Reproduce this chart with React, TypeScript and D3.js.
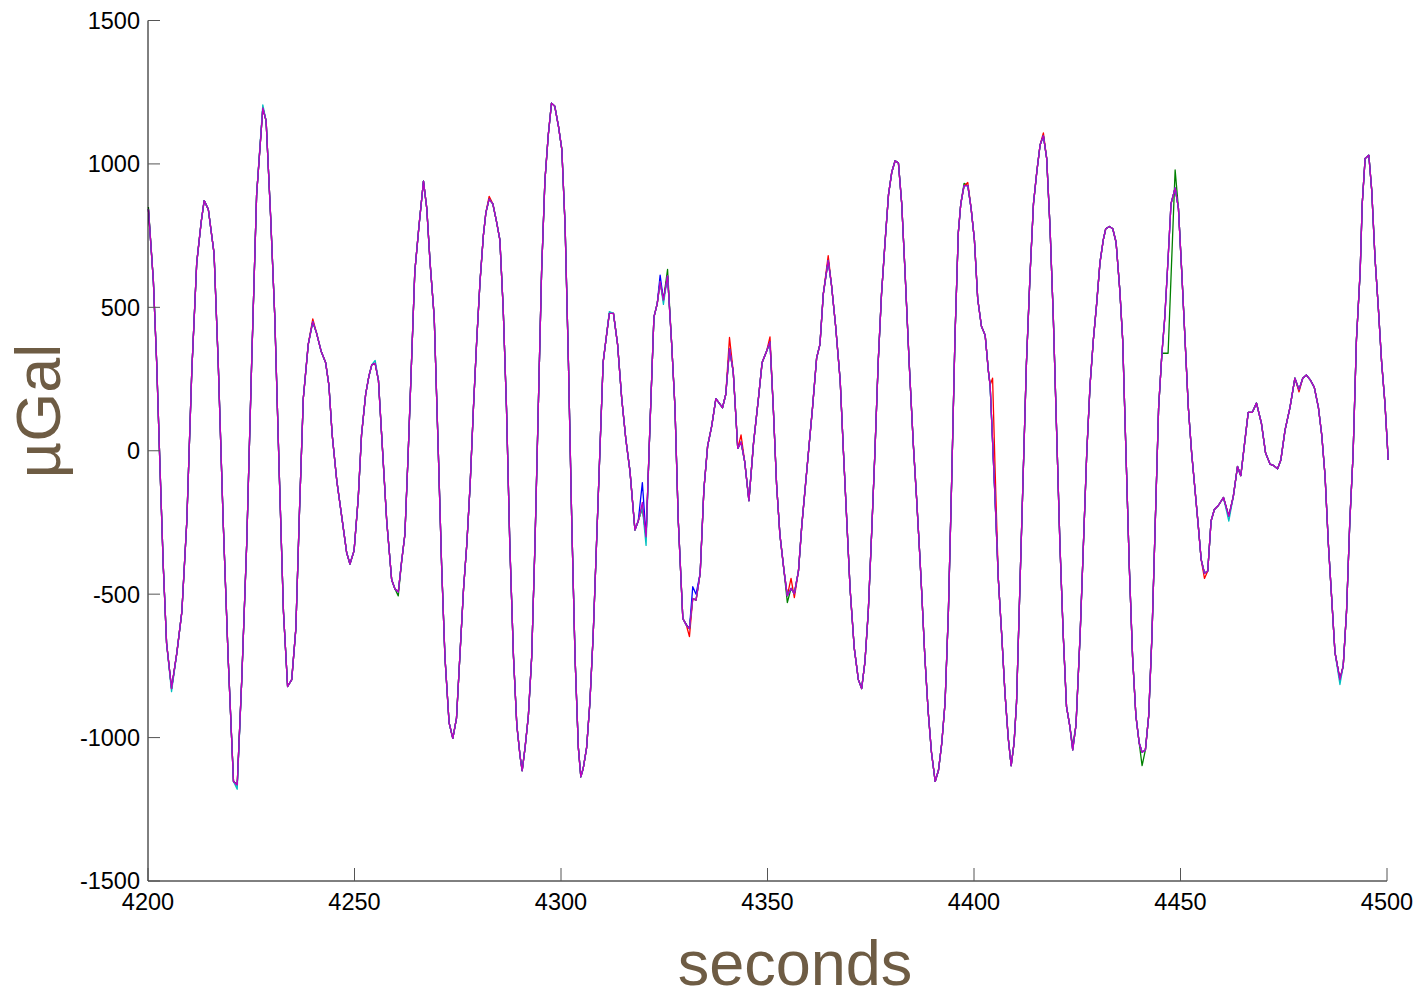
import React from "react";
import * as d3 from "d3";

// ---- data (seconds, µGal) ----
const xTicks = [4200, 4250, 4300, 4350, 4400, 4450, 4500];
const yTicks = [-1500, -1000, -500, 0, 500, 1000, 1500];

const baseSeries: [number, number][] = [
  [4200.1, 842], [4201.3, 592], [4202.1, 308], [4202.9, -55], [4203.7, -403], [4204.5, -671],
  [4205.7, -829], [4207.0, -703], [4208.2, -561], [4209.4, -245], [4210.6, 276], [4211.8, 656],
  [4212.9, 800], [4213.6, 872], [4214.6, 842], [4216.0, 687], [4217.0, 308], [4218.2, -245],
  [4219.4, -719], [4220.7, -1153], [4221.6, -1165], [4222.7, -798], [4223.9, -324], [4225.1, 308],
  [4226.3, 893], [4227.8, 1195], [4228.6, 1150], [4229.7, 814], [4230.7, 466], [4231.8, -87],
  [4232.8, -561], [4233.8, -822], [4234.8, -798], [4235.8, -620], [4236.7, -200], [4237.6, 182],
  [4238.8, 371], [4239.9, 450], [4240.8, 411], [4241.9, 348], [4243.0, 308], [4243.8, 229],
  [4244.6, 55], [4245.7, -103], [4246.9, -229], [4248.1, -355], [4248.9, -395], [4249.9, -348],
  [4250.9, -166], [4251.7, 55], [4252.7, 197], [4253.5, 261], [4254.2, 300], [4255.0, 305],
  [4255.8, 245], [4256.7, 24], [4257.8, -245], [4259.0, -450], [4259.8, -482], [4260.6, -492],
  [4261.4, -387], [4262.2, -292], [4263.0, -8], [4263.8, 308], [4264.6, 624], [4265.6, 782],
  [4266.7, 940], [4267.5, 845], [4268.3, 656], [4269.3, 466], [4270.3, -8], [4271.1, -403],
  [4271.9, -719], [4272.9, -948], [4273.8, -1003], [4274.7, -932], [4275.5, -719], [4276.4, -482],
  [4277.2, -324], [4278.0, -118], [4278.8, 150], [4279.6, 387], [4280.4, 592], [4281.2, 750],
  [4281.8, 829], [4282.6, 877], [4283.5, 861], [4284.4, 798], [4285.2, 735], [4286.0, 498],
  [4286.8, 150], [4287.6, -324], [4288.5, -719], [4289.3, -956], [4290.1, -1066], [4290.6, -1115],
  [4291.3, -1035], [4292.1, -924], [4292.9, -719], [4293.7, -324], [4294.5, 150], [4295.3, 624],
  [4296.1, 940], [4296.9, 1098], [4297.7, 1212], [4298.5, 1201], [4299.4, 1130], [4300.2, 1051],
  [4301.0, 782], [4301.8, 308], [4302.6, -245], [4303.4, -719], [4304.2, -1035], [4304.8, -1137],
  [4305.4, -1106], [4306.2, -1035], [4307.0, -877], [4307.8, -640], [4308.6, -324], [4309.4, -8],
  [4310.2, 308], [4311.0, 400], [4311.7, 479], [4312.7, 479], [4313.7, 371], [4314.7, 182],
  [4315.7, 40], [4316.7, -71], [4317.9, -276], [4318.7, -245], [4319.7, -197], [4320.6, -300],
  [4321.5, 71], [4322.5, 466], [4323.3, 513], [4324.0, 590], [4324.8, 525], [4325.8, 610],
  [4326.8, 371], [4327.6, 150], [4328.4, -245], [4329.5, -585], [4330.3, -605], [4331.1, -620],
  [4331.9, -515], [4332.7, -521], [4333.7, -427], [4334.6, -134], [4335.5, 16], [4336.5, 87],
  [4337.5, 182], [4338.3, 166], [4339.1, 150], [4339.9, 197], [4340.8, 355], [4341.7, 276],
  [4342.8, 8], [4343.6, 30], [4344.5, -40], [4345.5, -174], [4346.6, 24], [4347.8, 182],
  [4348.7, 308], [4349.8, 348], [4350.6, 379], [4351.4, 150], [4352.2, -118], [4353.0, -292],
  [4354.0, -419], [4354.8, -505], [4355.7, -480], [4356.5, -498], [4357.5, -419], [4358.3, -261],
  [4359.1, -134], [4359.9, -8], [4360.9, 150], [4361.9, 324], [4362.7, 371], [4363.5, 545],
  [4364.7, 664], [4365.5, 577], [4366.5, 434], [4367.6, 245], [4368.4, -8], [4369.2, -245],
  [4370.0, -482], [4371.0, -687], [4372.0, -798], [4372.8, -829], [4373.6, -735], [4374.4, -561],
  [4375.2, -292], [4376.0, -8], [4376.8, 308], [4377.6, 545], [4378.5, 735], [4379.3, 893],
  [4380.1, 972], [4380.9, 1011], [4381.7, 1003], [4382.5, 861], [4383.3, 624], [4384.3, 308],
  [4385.3, 24], [4386.1, -166], [4386.9, -371], [4387.3, -482], [4388.1, -719], [4388.9, -908],
  [4389.7, -1051], [4390.6, -1153], [4391.4, -1114], [4392.2, -1019], [4393.0, -877], [4393.8, -560],
  [4394.6, -100], [4395.4, 400], [4396.2, 760], [4396.8, 861], [4397.6, 924], [4398.5, 924],
  [4399.3, 845], [4400.1, 735], [4400.9, 529], [4401.8, 434], [4402.7, 403], [4403.5, 276],
  [4403.9, 229], [4405.1, -166], [4405.9, -450], [4406.7, -640], [4407.5, -845], [4408.3, -1003],
  [4409.0, -1098], [4409.7, -1019], [4410.3, -877], [4411.1, -482], [4411.9, -87], [4412.7, 308],
  [4413.6, 624], [4414.4, 861], [4415.2, 972], [4416.0, 1066], [4416.8, 1098], [4417.6, 1019],
  [4418.4, 782], [4419.2, 466], [4420.0, 71], [4420.8, -324], [4421.6, -640], [4422.4, -892],
  [4423.2, -960], [4423.9, -1043], [4424.7, -956], [4425.7, -640], [4426.5, -324], [4427.3, -8],
  [4428.1, 229], [4428.9, 387], [4429.7, 513], [4430.5, 656], [4431.3, 735], [4431.9, 774],
  [4432.8, 782], [4433.6, 774], [4434.4, 727], [4435.3, 561], [4436.0, 387], [4436.8, -8],
  [4437.6, -403], [4438.4, -719], [4439.2, -924], [4440.0, -1019], [4440.7, -1051], [4441.5, -1043],
  [4442.3, -924], [4443.1, -640], [4443.9, -245], [4444.7, 150], [4445.5, 340], [4446.2, 466],
  [4447.0, 671], [4447.7, 861], [4448.7, 916], [4449.5, 845], [4450.3, 624], [4451.1, 387],
  [4451.9, 150], [4452.7, -8], [4453.5, -134], [4454.3, -261], [4455.0, -379], [4455.8, -427],
  [4456.6, -419], [4457.4, -245], [4458.2, -205], [4459.2, -190], [4460.4, -163], [4461.7, -229],
  [4462.8, -158], [4463.8, -55], [4464.6, -87], [4465.5, 24], [4466.4, 134], [4467.4, 134],
  [4468.4, 166], [4469.6, 95], [4470.6, -8], [4471.7, -47], [4472.6, -52], [4473.5, -63],
  [4474.3, -32], [4475.3, 71], [4476.5, 150], [4477.7, 253], [4478.7, 213], [4479.6, 253],
  [4480.5, 264], [4481.5, 245], [4482.4, 221], [4483.4, 150], [4484.2, 55], [4485.0, -87],
  [4485.8, -324], [4486.6, -513], [4487.4, -703], [4488.6, -798], [4489.4, -750], [4490.2, -561],
  [4491.0, -245], [4491.8, -8], [4492.6, 387], [4493.5, 624], [4494.0, 861], [4494.7, 1019],
  [4495.6, 1030], [4496.3, 908], [4497.1, 671], [4497.9, 498], [4498.7, 308], [4499.5, 166],
  [4500.3, -32],
];

// per-series readings that differ from the shared trace
const greenPoints: [number, number][] = [
  [4200.1, 850], [4260.6, -506], [4325.8, 632], [4354.8, -529], [4397.6, 932],
  [4423.9, -1030], [4440.7, -1098], [4447.0, 340], [4448.7, 979],
];
const greenDropped: number[] = [4446.2, 4447.7];
const redPoints: [number, number][] = [
  [4239.9, 460], [4282.6, 887], [4331.1, -648], [4340.8, 395], [4343.6, 55], [4350.6, 397],
  [4355.7, -445], [4356.5, -512], [4364.7, 680], [4398.5, 935], [4404.5, 253], [4405.1, -60],
  [4416.8, 1108], [4455.8, -445], [4478.7, 205],
];
const bluePoints: [number, number][] = [
  [4319.7, -111], [4324.0, 612], [4331.9, -474], [4332.7, -500],
];
const cyanPoints: [number, number][] = [
  [4205.7, -840], [4221.6, -1180], [4227.8, 1206], [4255.0, 315], [4311.7, 485],
  [4320.6, -330], [4324.8, 510], [4330.3, -608], [4461.7, -245], [4488.6, -815],
];
const magentaPoints: [number, number][] = [[4319.7, -180], [4330.3, -608]];

const seriesNames = ["green", "red", "blue", "cyan", "magenta"];
const seriesColors = ["#008000", "#ff0000", "#0000ff", "#00bfbf", "#bf00bf"];

function buildSeries(points: [number, number][], dropped: number[] = []) {
  const m = new Map<number, number>();
  baseSeries.forEach(([t, v]) => m.set(t, v));
  dropped.forEach((t) => m.delete(t));
  points.forEach(([t, v]) => m.set(t, v));
  return Array.from(m.entries()).sort((a, b) => a[0] - b[0]);
}

const allSeries = [
  buildSeries(greenPoints, greenDropped),
  buildSeries(redPoints),
  buildSeries(bluePoints),
  buildSeries(cyanPoints),
  buildSeries(magentaPoints),
];

export default function App() {
  const W = 1418, H = 997;
  const left = 148, right = 1387, top = 20.5, bottom = 881;
  const x = d3.scaleLinear().domain([4200, 4500]).range([left, right]);
  const y = d3.scaleLinear().domain([-1500, 1500]).range([bottom, top]);
  const line = d3.line<[number, number]>().x((d) => x(d[0])).y((d) => y(d[1]));
  const font = "'Liberation Sans', Arial, sans-serif";

  return (
    <svg width={W} height={H} style={{ position: "absolute", left: 0, top: 0, background: "#fff" }}>
      <rect x={0} y={0} width={W} height={H} fill="#fff" />
      <g>
        {allSeries.map((s, i) => (
          <path key={seriesNames[i]} d={line(s as [number, number][]) || ""} fill="none"
            stroke={seriesColors[i]} strokeWidth={1.3} strokeLinejoin="round" />
        ))}
      </g>
      {/* axes */}
      <line x1={left} x2={left} y1={top} y2={bottom} stroke="#000" strokeWidth={1} />
      <line x1={left} x2={right} y1={bottom} y2={bottom} stroke="#000" strokeWidth={1} />
      {yTicks.map((t) => (
        <g key={"y" + t}>
          <line x1={left} x2={left + 12} y1={y(t)} y2={y(t)} stroke="#555" strokeWidth={1} />
          <text x={140} y={y(t)} dy="0.36em" textAnchor="end" fontFamily={font} fontSize={23.5} fill="#000">
            {t}
          </text>
        </g>
      ))}
      {xTicks.map((t) => (
        <g key={"x" + t}>
          <line x1={x(t)} x2={x(t)} y1={bottom} y2={bottom - 13} stroke="#555" strokeWidth={1} />
          <text x={x(t)} y={910} textAnchor="middle" fontFamily={font} fontSize={23.5} fill="#000">
            {t}
          </text>
        </g>
      ))}
      <text x={795} y={985} textAnchor="middle" fontFamily={font} fontSize={63} fill="#6e5c44">
        seconds
      </text>
      <text transform={`translate(60, 411) rotate(-90)`} textAnchor="middle" fontFamily={font}
        fontSize={63} fill="#6e5c44">
        µGal
      </text>
    </svg>
  );
}
